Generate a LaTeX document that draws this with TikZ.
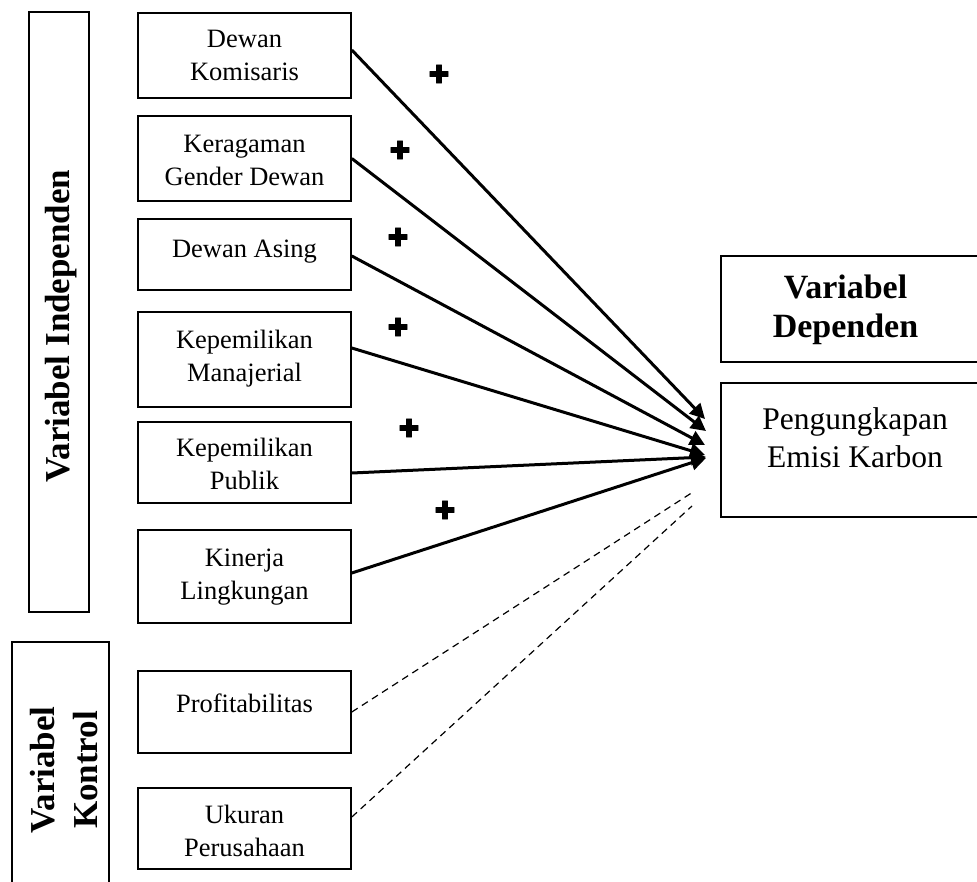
\documentclass[tikz,border=0pt]{standalone}
\usepackage{fontspec}
\setmainfont{Liberation Serif}
\newfontfamily\symfont[FakeBold=3]{DejaVu Sans}
\usetikzlibrary{arrows.meta,calc}
\begin{document}
\begin{tikzpicture}[x=1pt,y=-1pt,
  box/.style={draw, line width=1.6pt, inner sep=0pt},
  vbox/.style={box, minimum width=213pt},
  lbl/.style={align=center, inner sep=0pt, font=\fontsize{26.5}{33}\selectfont},
  rlbl/.style={align=center, inner sep=0pt, font=\fontsize{31.5}{38}\selectfont},
  blbl/.style={align=center, inner sep=0pt, font=\fontsize{34}{39}\selectfont\bfseries},
  arr/.style={line width=3pt, -{Triangle[length=15pt,width=15pt]}},
  dsh/.style={line width=1.2pt, dash pattern=on 7pt off 5pt},
  plus/.style={inner sep=0pt, font=\symfont\fontsize{25}{25}\selectfont}]
\useasboundingbox (0,0) rectangle (977,881);
\clip (0,0) rectangle (977,881);
% group boxes
\node[box, minimum width=60pt, minimum height=600pt] (indep) at (59,312) {};
\node[blbl, rotate=90, font=\fontsize{35}{43}\selectfont\bfseries] (indepT) at (61,326) {Variabel Independen};
\node[box, minimum width=97pt, minimum height=258pt] (kontrol) at (60.5,771) {};
\node[blbl, rotate=90, font=\fontsize{35}{43}\selectfont\bfseries] (kontrolT) at (64.5,770) {Variabel\\Kontrol};
% variable boxes
\node[vbox, minimum height=85pt] (b1) at (244.5,55.5) {};
\node[vbox, minimum height=85pt] (b2) at (244.5,158.5) {};
\node[vbox, minimum height=71pt] (b3) at (244.5,254.5) {};
\node[vbox, minimum height=95pt] (b4) at (244.5,359.5) {};
\node[vbox, minimum height=81pt] (b5) at (244.5,462.5) {};
\node[vbox, minimum height=93pt] (b6) at (244.5,576.5) {};
\node[vbox, minimum height=82pt] (b7) at (244.5,712) {};
\node[vbox, minimum height=81pt] (b8) at (244.5,828.5) {};
\node[lbl] (t1) at (244.5,55.5) {Dewan\\Komisaris};
\node[lbl] (t2) at (244.5,160) {Keragaman\\Gender Dewan};
\node[lbl] (t3) at (244.5,252) {Dewan Asing};
\node[lbl] (t4) at (244.5,359) {Kepemilikan\\Manajerial};
\node[lbl] (t5) at (244.5,463.5) {Kepemilikan\\Publik};
\node[lbl] (t6) at (244.5,577) {Kinerja\\Lingkungan};
\node[lbl] (t7) at (244.5,703) {Profitabilitas};
\node[lbl] (t8) at (244.5,831) {Ukuran\\Perusahaan};
% dependent
\node[box, minimum width=269pt, minimum height=106pt] (dep) at (855.5,309) {};
\node[blbl] (depT) at (845.5,310) {Variabel\\Dependen};
\node[box, minimum width=269pt, minimum height=134pt] (y) at (855.5,450) {};
\node[rlbl] (yT) at (855,438) {Pengungkapan\\Emisi Karbon};
% arrow tips
\coordinate (tip1) at (705,419);
\coordinate (tip2) at (706,431);
\coordinate (tip3) at (705,445);
\coordinate (tip4) at (705,455);
\coordinate (tip5) at (706,457);
\coordinate (tip6) at (706,458);
\coordinate (d1) at (693,492);
\coordinate (d2) at (692,506);
\draw[arr] ([yshift=5.5pt]b1.east) -- (tip1);
\draw[arr] (b2.east) -- (tip2);
\draw[arr] ([yshift=-1.5pt]b3.east) -- (tip3);
\draw[arr] ([yshift=11.5pt]b4.east) -- (tip4);
\draw[arr] ([yshift=-10.5pt]b5.east) -- (tip5);
\draw[arr] ([yshift=3.5pt]b6.east) -- (tip6);
\draw[dsh] (b7.east) -- (d1);
\draw[dsh] ([yshift=11.5pt]b8.east) -- (d2);
% plus signs
\node[plus] (p1) at (439,74) {✚};
\node[plus] (p2) at (400,150) {✚};
\node[plus] (p3) at (398,237) {✚};
\node[plus] (p4) at (398,327) {✚};
\node[plus] (p5) at (409,428) {✚};
\node[plus] (p6) at (445,510) {✚};
\end{tikzpicture}
\end{document}
